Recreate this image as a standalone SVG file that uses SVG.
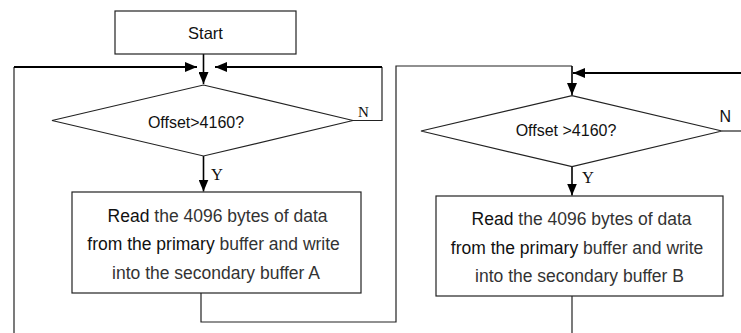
<svg xmlns="http://www.w3.org/2000/svg" width="741" height="333" viewBox="0 0 741 333">
  <style>
    .box { fill: #ffffff; stroke: #222; stroke-width: 1.2; }
    .sans { font-family: "Liberation Sans", Arial, sans-serif; fill: #111; }
    .serif { font-family: "Liberation Serif", "Times New Roman", serif; fill: #111; }
    .dim { fill: #333; }
    .line { fill: none; stroke: #222; stroke-width: 1.2; }
    .flow { fill: none; stroke: #000; stroke-width: 1.6; }
    .thick { fill: none; stroke: #000; stroke-width: 2.2; }
  </style>
  <defs>
    <marker id="arrow" viewBox="0 0 12 10" refX="12" refY="5" markerWidth="12" markerHeight="10" markerUnits="userSpaceOnUse" orient="auto">
      <path d="M0,0 L12,5 L0,10 z" fill="#000"/>
    </marker>
  </defs>

  <!-- connectors -->
  <g id="connectors">
    <path class="flow" d="M203.5,54 V84" marker-end="url(#arrow)"/>
    <path class="line" d="M14,333 V67"/>
    <path class="thick" d="M14,67 H197" marker-end="url(#arrow)"/>
    <path class="line" d="M353,120.5 H382 V67"/>
    <path class="thick" d="M382,67 H215" marker-end="url(#arrow)"/>
    <path class="flow" d="M203.5,156 V191.5" marker-end="url(#arrow)"/>
    <path class="line" d="M201,293 V322 H396 V66 H572"/>
    <path class="flow" d="M572,66 V95" marker-end="url(#arrow)"/>
    <path class="line" d="M722,131 H741"/>
    <path class="thick" d="M741,73 H573" marker-end="url(#arrow)"/>
    <path class="flow" d="M572,167 V195.5" marker-end="url(#arrow)"/>
    <path class="line" d="M572,296 V333"/>
    <text class="serif" x="358" y="117" font-size="15">N</text>
    <text class="serif" x="211" y="180" font-size="16.5">Y</text>
    <text class="sans" x="719.5" y="121.5" font-size="16">N</text>
    <text class="serif" x="582" y="183" font-size="16.5">Y</text>
  </g>

  <g id="start">
    <rect class="box" x="115" y="11" width="181" height="43"/>
    <text class="sans" x="205.5" y="38.5" font-size="16.5" text-anchor="middle">Start</text>
  </g>

  <g id="check-a">
    <polygon class="box" points="52,120.5 203.5,85 353,120.5 203.5,156"/>
    <text class="sans" x="196" y="127.5" font-size="16" text-anchor="middle">Offset&gt;4160?</text>
  </g>

  <g id="copy-a">
    <rect class="box" x="72" y="192" width="289" height="101"/>
    <text class="sans" font-size="17.5" text-anchor="middle">
      <tspan x="220" y="221.5">Read<tspan class="dim"> the 4096 bytes of data</tspan></tspan>
      <tspan x="216" y="250">from the primary<tspan class="dim"> buffer and write</tspan></tspan>
      <tspan class="dim" x="216" y="278.5">into the secondary buffer A</tspan>
    </text>
  </g>

  <g id="check-b">
    <polygon class="box" points="421,131 572,95.7 722,131 572,166.7"/>
    <text class="sans" x="566" y="136" font-size="16" text-anchor="middle">Offset &gt;4160?</text>
  </g>

  <g id="copy-b">
    <rect class="box" x="436" y="196" width="287" height="100"/>
    <text class="sans" font-size="17.5" text-anchor="middle">
      <tspan x="584" y="225">Read<tspan class="dim"> the 4096 bytes of data</tspan></tspan>
      <tspan x="579.5" y="253.5">from the primary<tspan class="dim"> buffer and write</tspan></tspan>
      <tspan class="dim" x="579.5" y="281.5">into the secondary buffer B</tspan>
    </text>
  </g>
</svg>
